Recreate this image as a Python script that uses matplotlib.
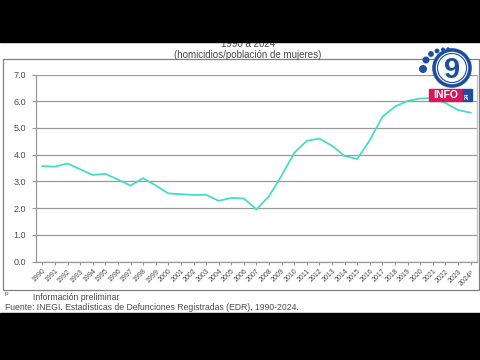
import matplotlib.pyplot as plt
from matplotlib.patches import Rectangle, Circle

# --- data ---
years = [str(y) for y in range(1990, 2024)] + ['2024$^{p}$']
tasa = [3.57, 3.55, 3.67, 3.45, 3.24, 3.28, 3.07, 2.84, 3.12, 2.85,
        2.55, 2.52, 2.49, 2.50, 2.27, 2.38, 2.36, 1.95, 2.45, 3.22,
        4.07, 4.52, 4.60, 4.33, 3.95, 3.84, 4.55, 5.42, 5.80, 6.01,
        6.10, 6.12, 5.93, 5.67, 5.57]
yticks = [0, 1, 2, 3, 4, 5, 6, 7]

subtitle = '(homicidios/población de mujeres)'
title_cut = '1990 a 2024'
nota = 'Información preliminar'
fuente = 'Fuente: INEGI. Estadísticas de Defunciones Registradas (EDR), 1990-2024.'

plt.rcParams['font.family'] = ['Liberation Sans', 'DejaVu Sans']
TXT = '#4a4a4a'
GRID = '#999999'

fig = plt.figure(figsize=(4.8, 3.6), dpi=100)
fig.patch.set_facecolor('white')

# --- main chart ---
ax = fig.add_axes([36 / 480, 1 - 261.5 / 360, (477 - 36) / 480, (261.5 - 74.5) / 360])
x = range(len(years))
ax.plot(x, tasa, color='#45dcca', lw=1.3, zorder=3)
ax.set_xlim(-0.5, len(years) - 0.5)
ax.set_ylim(0, 7)
ax.set_yticks(yticks)
ax.set_yticklabels([f'{v:.1f}' for v in yticks], fontsize=6.5, color=TXT)
ax.set_xticks(list(x))
ax.set_xticklabels(years, rotation=45, ha='right', va='top', fontsize=5,
                   color=TXT, rotation_mode='anchor')
ax.yaxis.grid(True, color=GRID, lw=0.9)
ax.set_axisbelow(True)
ax.spines['top'].set_visible(False)
for s in ['left', 'bottom']:
    ax.spines[s].set_color(GRID)
    ax.spines[s].set_linewidth(0.9)
ax.spines['right'].set_color('#c4c4c4')
ax.spines['right'].set_linewidth(0.9)
ax.tick_params(axis='y', length=3, color=GRID, pad=4)
ax.tick_params(axis='x', length=2.5, color=GRID, pad=2)

# --- overlay in pixel coordinates ---
ov = fig.add_axes([0, 0, 1, 1], zorder=5)
ov.set_xlim(0, 480)
ov.set_ylim(360, 0)
ov.axis('off')
ov.patch.set_alpha(0)

ov.add_patch(Rectangle((3, 59), 476, 231, fill=False, ec='#808080', lw=0.9))
ov.text(248, 44, title_cut, ha='center', va='center', fontsize=7, color=TXT)
ov.text(248, 55, subtitle, ha='center', va='center', fontsize=7, color=TXT)
ov.add_patch(Rectangle((0, 0), 480, 42, color='black', zorder=10))
ov.add_patch(Rectangle((0, 313), 480, 47, color='black', zorder=10))

ov.text(5, 294, 'p', ha='left', va='center', fontsize=4.5, color=TXT)
ov.text(33, 297, nota, ha='left', va='center', fontsize=6.2, color=TXT)
ov.text(5, 308, fuente, ha='left', va='center', fontsize=6.2, color=TXT)

# --- simplified INFO 9 logo ---
blue = '#1d4f9e'
ov.add_patch(Circle((452, 68), 18, fc='white', ec=blue, lw=2.6, zorder=12))
ov.add_patch(Circle((452, 68), 14.5, fc='white', ec=blue, lw=0.8, zorder=12))
ov.text(452, 70, '9', ha='center', va='center', fontsize=21, fontweight='bold',
        color=blue, zorder=13)
for (dx, dy, r) in [(448, 49, 1.0), (443, 49.5, 1.3), (437, 51, 1.7),
                    (431, 54, 2.2), (426, 60, 2.8), (423, 69, 3.3)]:
    ov.add_patch(Circle((dx, dy), r, color=blue, zorder=12))
ov.add_patch(Rectangle((429, 89), 34, 12, color='#d6175a', zorder=12))
ov.add_patch(Rectangle((463, 89), 9, 12, color=blue, zorder=12))
ov.text(446, 95.5, 'INFO', ha='center', va='center', fontsize=7.5,
        fontweight='bold', color='white', zorder=13)
ov.text(467.5, 95.5, '24', ha='center', va='center', fontsize=4, rotation=90,
        fontweight='bold', color='white', zorder=13)

fig.savefig('out.png', dpi=100)
